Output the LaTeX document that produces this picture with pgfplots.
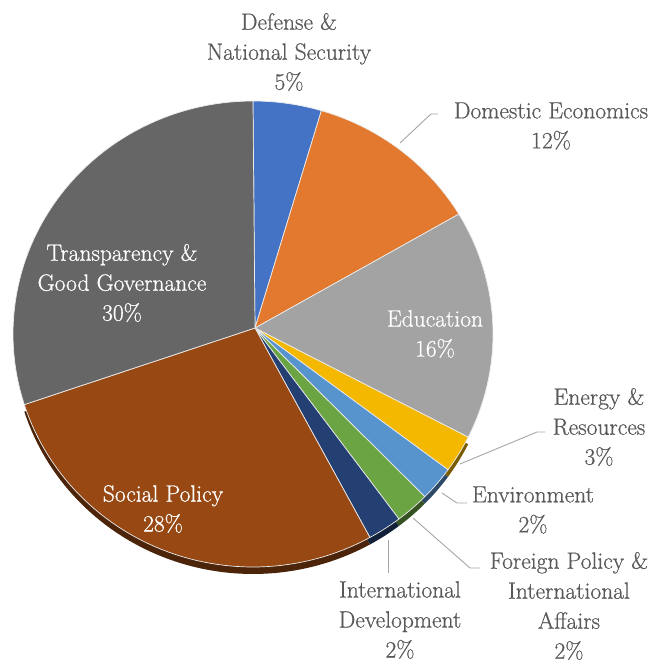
\documentclass[border=0pt]{standalone}
\usepackage{pgfplots}
\pgfplotsset{compat=1.18}
\usepackage{pgfplotstable}
\usepackage{fontspec}
\newfontfamily\lbserif{Latin Modern Roman}[FakeBold=0.7]
\definecolor{cDef}{HTML}{4472C4}
\definecolor{cDom}{HTML}{E2792F}
\definecolor{cEdu}{HTML}{A3A3A3}
\definecolor{cEne}{HTML}{F4B800}
\definecolor{cEnv}{HTML}{5794CE}
\definecolor{cFor}{HTML}{6BA443}
\definecolor{cInt}{HTML}{243F72}
\definecolor{cSoc}{HTML}{974813}
\definecolor{cTra}{HTML}{666666}
\definecolor{lbl}{HTML}{595959}
\definecolor{lead}{HTML}{A6A6A6}
\newcommand\lblfont{\lbserif\fontsize{23.5}{30}\selectfont}

\pgfplotstableread{
value color
4.6  cDef
11.8 cDom
15.9 cEdu
2.6  cEne
2.4  cEnv
2.3  cFor
2.3  cInt
28.2 cSoc
29.9 cTra
}\piedata

\begin{document}
\begin{tikzpicture}
\begin{axis}[
  width=663pt, height=664pt, scale only axis,
  xmin=0, xmax=663, ymin=0, ymax=664, y dir=reverse,
  hide axis, clip=false, no markers,
]
\pgfplotstablegetrowsof{\piedata}
\pgfmathtruncatemacro\N{\pgfplotsretval-1}
% shadow pass (lower slices only)
\def\cum{0}
\pgfplotsforeachungrouped \i in {0,...,\N}{%
  \pgfplotstablegetelem{\i}{value}\of\piedata \let\v\pgfplotsretval
  \pgfplotstablegetelem{\i}{color}\of\piedata \let\c\pgfplotsretval
  \pgfmathsetmacro\a{3.6*\cum}%
  \pgfmathsetmacro\b{3.6*(\cum+\v)}%
  \ifnum\i>2 \ifnum\i<8
  \edef\temp{\noexpand\addplot[draw=none, fill=\c!50!black, domain=\a:\b, samples=60] ({253+240*sin(x)},{341-233*cos(x)}) -- (axis cs:255,335) -- cycle;}%
  \temp
  \fi\fi
  \pgfmathsetmacro\cum{\cum+\v}%
}
% slice pass
\def\cum{0}
\pgfplotsforeachungrouped \i in {0,...,\N}{%
  \pgfplotstablegetelem{\i}{value}\of\piedata \let\v\pgfplotsretval
  \pgfplotstablegetelem{\i}{color}\of\piedata \let\c\pgfplotsretval
  \pgfmathsetmacro\a{3.6*\cum}%
  \pgfmathsetmacro\b{3.6*(\cum+\v)}%
  \edef\temp{\noexpand\addplot[draw=white!85!gray, line width=0.7pt, fill=\c, domain=\a:\b, samples=60] ({253+240*sin(x)},{334-233*cos(x)}) -- (axis cs:255,328) -- cycle;}%
  \temp
  \pgfmathsetmacro\cum{\cum+\v}%
}
% leader lines
\addplot[lead, line width=0.9pt] coordinates {(400,143) (431,114) (438,114)};
\addplot[lead, line width=0.9pt] coordinates {(460,464) (537,432) (545,432)};
\addplot[lead, line width=0.9pt] coordinates {(442,493) (457,503) (467,503)};
\addplot[lead, line width=0.9pt] coordinates {(413,518) (470,568) (480,568)};
\addplot[lead, line width=0.9pt] coordinates {(388,540) (388,573)};
% labels
\tikzset{lb/.style={align=center, font=\lblfont, inner sep=0pt}}
\node[lbl, lb] at (axis cs:289,52) {Defense \&\\National Security\\5\%};
\node[lbl, lb] at (axis cs:551,126) {Domestic Economics\\12\%};
\node[white, lb] at (axis cs:435,334) {Education\\16\%};
\node[lbl, lb] at (axis cs:599,427) {Energy \&\\Resources\\3\%};
\node[lbl, lb] at (axis cs:533,510) {Environment\\2\%};
\node[lbl, lb] at (axis cs:569,606) {Foreign Policy \&\\International\\Affairs\\2\%};
\node[lbl, lb] at (axis cs:400,620) {International\\Development\\2\%};
\node[white, lb] at (axis cs:163,509) {Social Policy\\28\%};
\node[white, lb] at (axis cs:122,283) {Transparency \&\\Good Governance\\30\%};
\end{axis}
\pgfresetboundingbox
\path (current axis.south west) rectangle (current axis.north east);
\end{tikzpicture}
\end{document}
